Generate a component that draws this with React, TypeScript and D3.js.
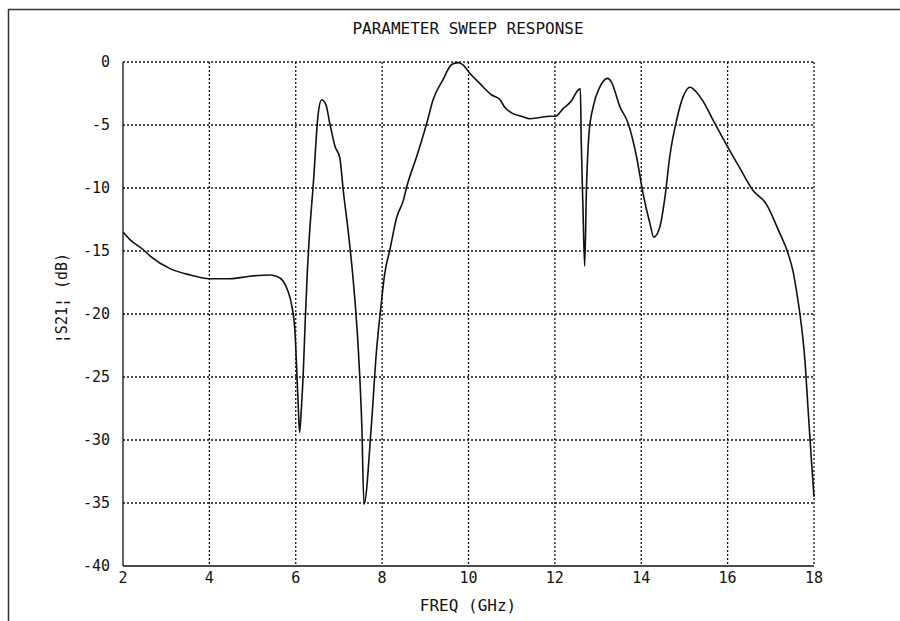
import { useEffect, useRef } from 'react'
import * as d3 from 'd3'

const freq = [
  2.0, 2.16, 2.47, 2.63, 3.09, 3.55, 4.01, 4.48, 4.94, 5.4, 5.55, 5.71, 5.82, 5.9, 5.98, 6.02, 6.06, 6.09,
  6.13, 6.17, 6.22, 6.27, 6.31, 6.41, 6.52, 6.6, 6.7, 6.79, 6.91, 7.02, 7.1, 7.21, 7.33, 7.45, 7.53, 7.58,
  7.75, 7.87, 7.97, 8.06, 8.18, 8.34, 8.49, 8.57, 8.8, 9.03, 9.18, 9.41, 9.61, 9.76, 9.88, 10.03, 10.26,
  10.53, 10.73, 10.84, 11.03, 11.23, 11.42, 11.65, 11.88, 12.02, 12.19, 12.38, 12.5, 12.59, 12.61, 12.65,
  12.69, 12.73, 12.79, 12.89, 13.04, 13.22, 13.31, 13.5, 13.7, 13.89, 14.04, 14.2, 14.29, 14.43, 14.55,
  14.66, 14.82, 14.97, 15.13, 15.28, 15.43, 15.66, 16.01, 16.28, 16.59, 16.9, 17.17, 17.4, 17.52, 17.6,
  17.67, 17.79, 17.86, 17.94, 18.0,
]

const s21 = [
  -13.5, -14.1, -14.9, -15.4, -16.4, -16.9, -17.2, -17.2, -17.0, -16.9, -17.0, -17.4, -18.2, -19.2, -21.3,
  -24.2, -27.5, -29.4, -27.5, -25.0, -20.5, -16.5, -14.1, -9.5, -4.1, -3.0, -3.4, -4.9, -6.7, -7.6, -10.2,
  -13.3, -17.3, -22.9, -28.9, -35.1, -28.9, -22.9, -19.5, -16.8, -14.9, -12.3, -11.0, -9.9, -7.5, -4.9,
  -3.0, -1.4, -0.2, -0.05, -0.24, -0.9, -1.7, -2.6, -3.0, -3.6, -4.1, -4.3, -4.5, -4.4, -4.3, -4.3, -3.7,
  -3.1, -2.4, -2.1, -6.2, -11.5, -16.2, -10.2, -5.7, -3.5, -2.0, -1.3, -1.6, -3.5, -4.9, -7.5, -10.4,
  -12.8, -13.9, -13.1, -10.7, -7.5, -4.6, -2.75, -2.0, -2.4, -3.1, -4.6, -6.8, -8.4, -10.2, -11.3, -13.3,
  -15.2, -16.7, -18.3, -19.9, -23.7, -27.4, -31.6, -34.5,
]

const xTicks = [2, 4, 6, 8, 10, 12, 14, 16, 18]
const yTicks = [0, -5, -10, -15, -20, -25, -30, -35, -40]

const W = 900
const H = 621
const FONT = '"DejaVu Sans Mono", monospace'

export default function App() {
  const svgRef = useRef<SVGSVGElement>(null)

  useEffect(() => {
    if (!svgRef.current) return
    const svg = d3.select(svgRef.current)
    svg.selectAll('*').remove()

    const x = d3.scaleLinear().domain([2, 18]).range([123, 814])
    const y = d3.scaleLinear().domain([-40, 0]).range([566, 62])

    // outer frame (top and left only visible)
    svg.append('line').attr('x1', 8).attr('x2', W).attr('y1', 9.5).attr('y2', 9.5)
      .attr('stroke', '#333').attr('stroke-width', 1.5)
    svg.append('line').attr('x1', 8.5).attr('x2', 8.5).attr('y1', 9).attr('y2', H)
      .attr('stroke', '#333').attr('stroke-width', 1.5)

    const g = svg.append('g')

    // dotted grid
    g.selectAll('.vgrid').data(xTicks.slice(1)).join('line')
      .attr('x1', d => x(d)).attr('x2', d => x(d))
      .attr('y1', y(0)).attr('y2', y(-40))
      .attr('stroke', '#111').attr('stroke-width', 1.3).attr('stroke-dasharray', '2,2')
    g.selectAll('.hgrid').data(yTicks.slice(0, -1)).join('line')
      .attr('x1', x(2)).attr('x2', x(18))
      .attr('y1', d => y(d)).attr('y2', d => y(d))
      .attr('stroke', '#111').attr('stroke-width', 1.3).attr('stroke-dasharray', '2,2')

    // solid left and bottom axes
    g.append('line').attr('x1', x(2)).attr('x2', x(2)).attr('y1', y(0)).attr('y2', y(-40))
      .attr('stroke', '#111').attr('stroke-width', 1.3)
    g.append('line').attr('x1', x(2)).attr('x2', x(18)).attr('y1', y(-40)).attr('y2', y(-40))
      .attr('stroke', '#111').attr('stroke-width', 1.3)

    // tick labels
    g.selectAll('.ylab').data(yTicks).join('text')
      .attr('x', 110).attr('y', d => y(d))
      .attr('dy', '0.35em').attr('text-anchor', 'end')
      .attr('font-family', FONT).attr('font-size', 15).attr('fill', '#111')
      .text(d => String(d))
    g.selectAll('.xlab').data(xTicks).join('text')
      .attr('x', d => x(d)).attr('y', 578)
      .attr('dy', '0.35em').attr('text-anchor', 'middle')
      .attr('font-family', FONT).attr('font-size', 15).attr('fill', '#111')
      .text(d => String(d))

    // titles
    svg.append('text').attr('x', 468).attr('y', 28).attr('dy', '0.35em')
      .attr('text-anchor', 'middle').attr('font-family', FONT).attr('font-size', 16)
      .attr('fill', '#111').text('PARAMETER SWEEP RESPONSE')
    svg.append('text').attr('x', 468).attr('y', 605).attr('dy', '0.35em')
      .attr('text-anchor', 'middle').attr('font-family', FONT).attr('font-size', 16)
      .attr('fill', '#111').text('FREQ (GHz)')
    svg.append('text')
      .attr('transform', 'translate(62,298) rotate(-90)')
      .attr('dy', '0.35em').attr('text-anchor', 'middle')
      .attr('font-family', FONT).attr('font-size', 15).attr('fill', '#111')
      .text('¦S21¦ (dB)')

    // response curve
    const pts: [number, number][] = freq.map((f, i) => [f, s21[i]])
    const line = d3.line<[number, number]>()
      .x(d => x(d[0])).y(d => y(d[1]))
      .curve(d3.curveMonotoneX)
    g.append('path').datum(pts).attr('d', line)
      .attr('fill', 'none').attr('stroke', '#111').attr('stroke-width', 1.6)
      .attr('stroke-linejoin', 'round')
  }, [])

  return (
    <svg ref={svgRef} width={W} height={H}
      style={{ position: 'absolute', left: 0, top: 0, background: '#fff' }} />
  )
}
